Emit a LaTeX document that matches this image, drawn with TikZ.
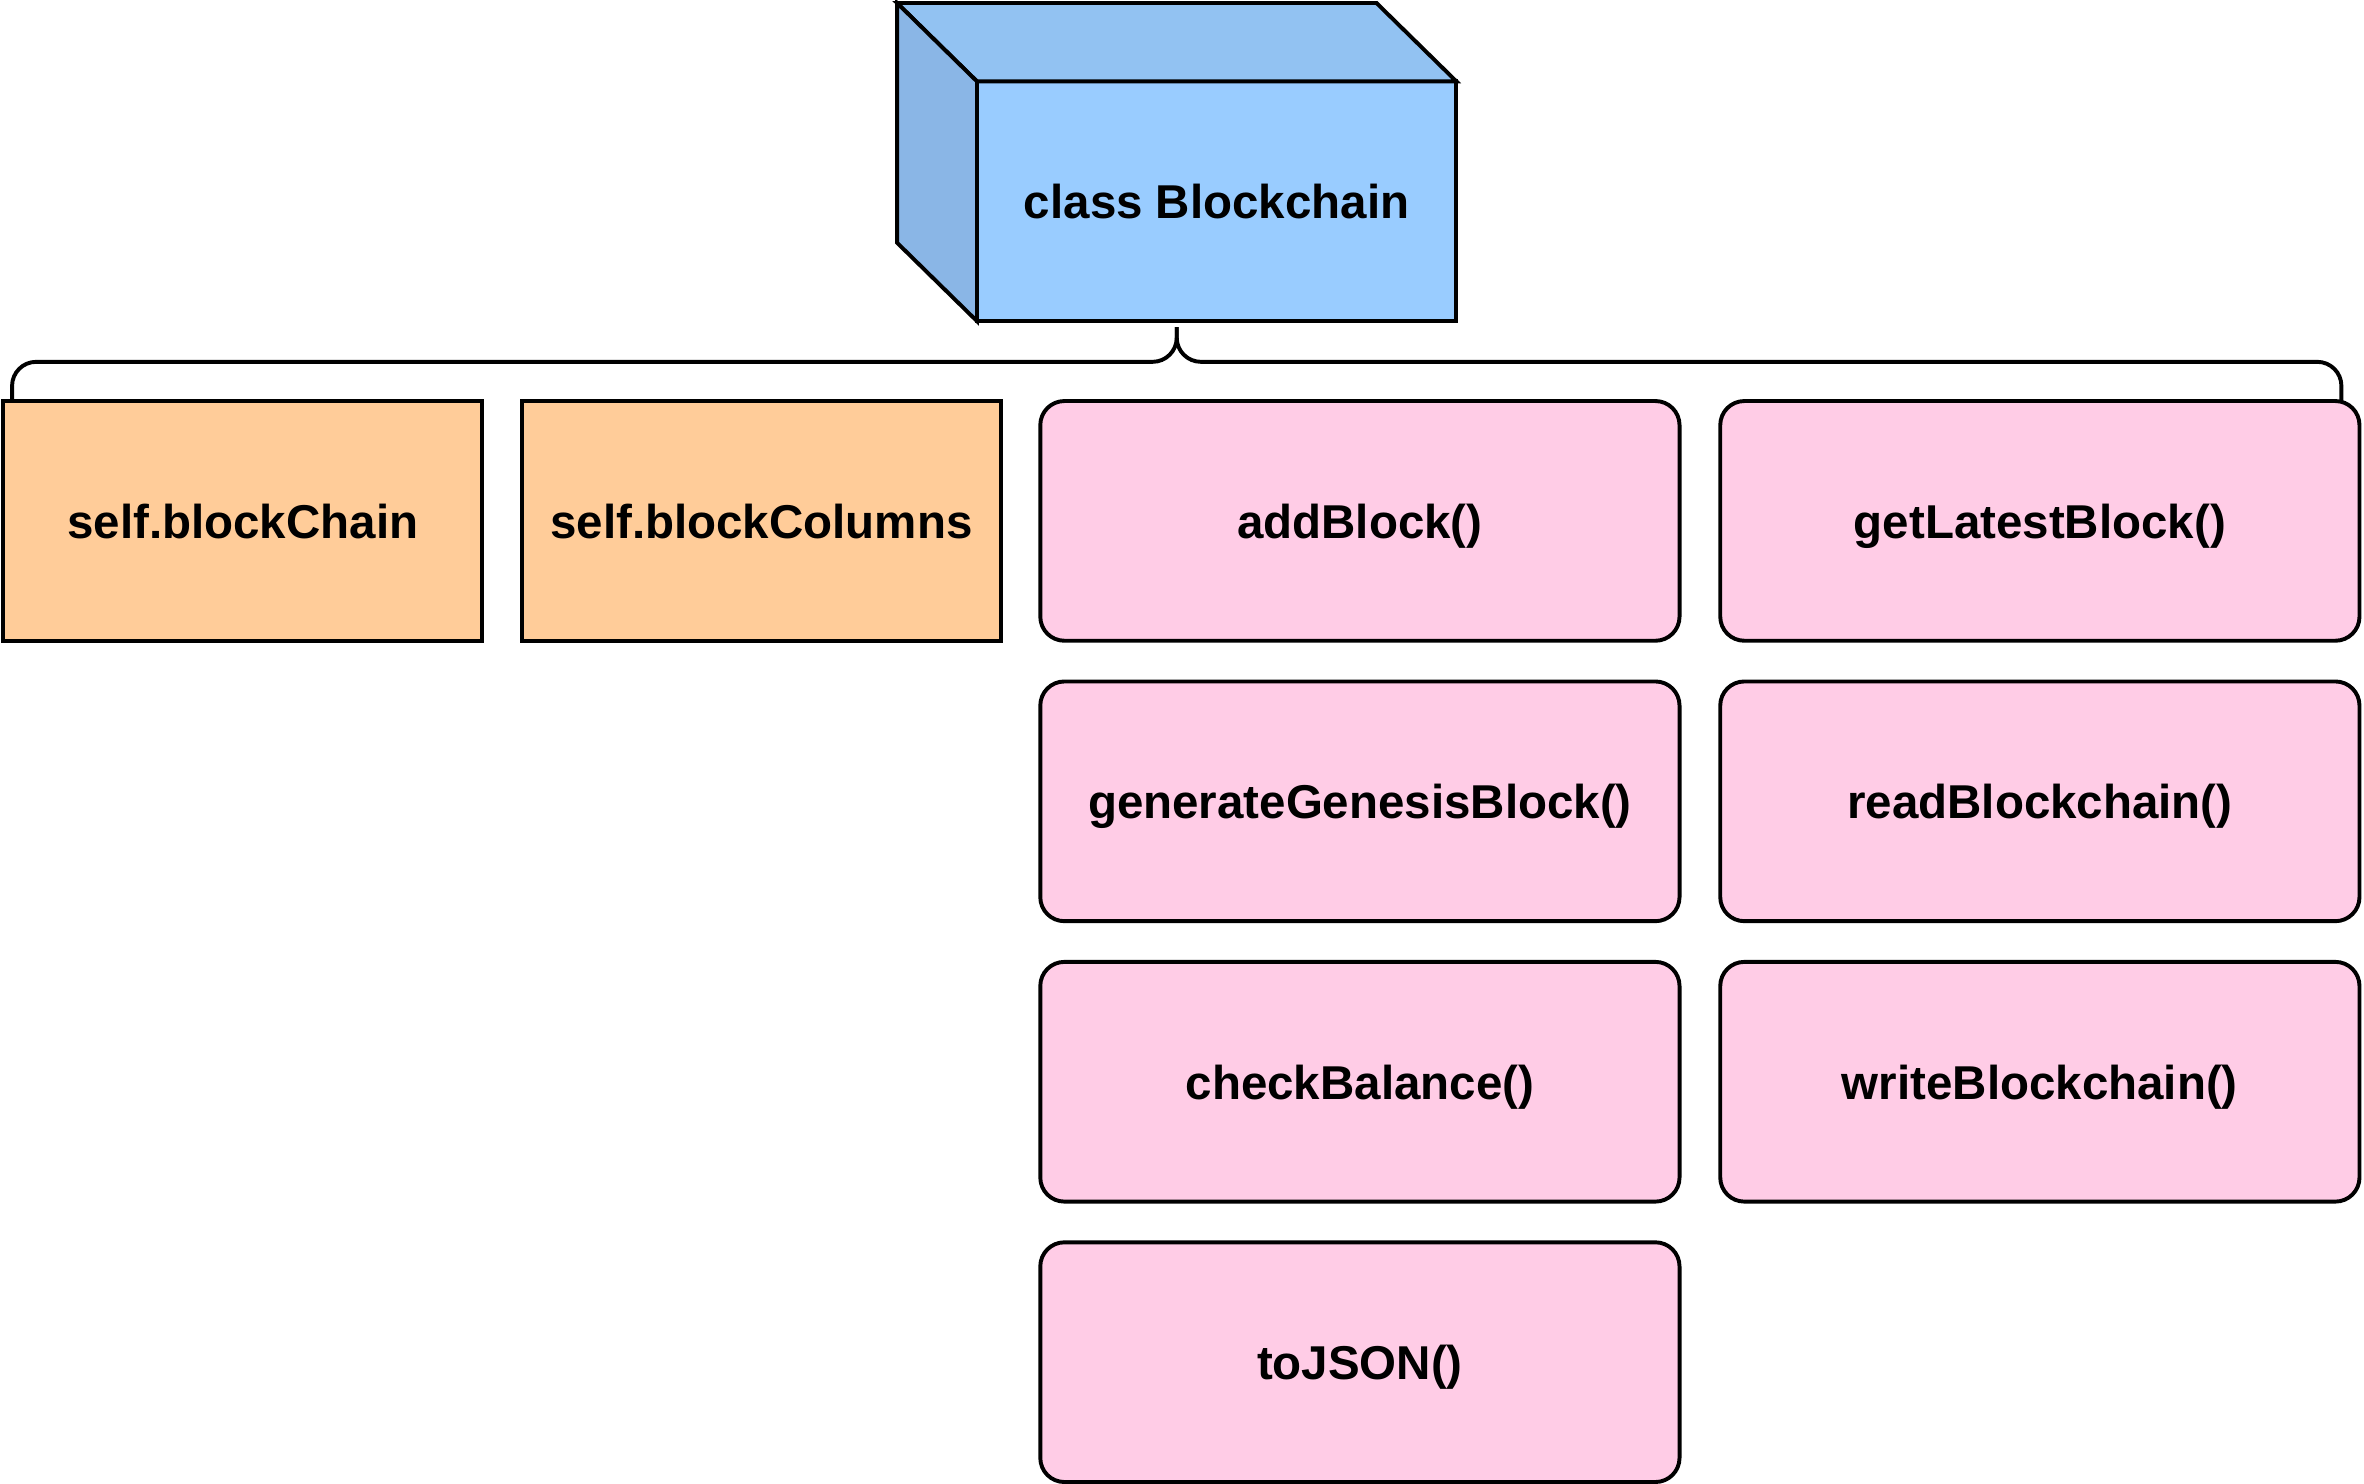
\documentclass[tikz,border=0pt]{standalone}
\usepackage{fontspec}
\setmainfont{Liberation Sans}
\usetikzlibrary{positioning}

\definecolor{fieldorange}{HTML}{FFCC99}
\definecolor{methodpink}{HTML}{FFCCE6}
\definecolor{cubefront}{HTML}{99CCFF}
\definecolor{cubetop}{HTML}{92C2F2}
\definecolor{cubeside}{HTML}{8AB6E6}

\begin{document}
\begin{tikzpicture}[
  node distance=13.5pt,
  label font/.style={font=\fontsize{15.75}{19}\selectfont\bfseries, text height=11.5pt, text depth=0pt, outer sep=0pt},
  field/.style={rectangle, draw, line width=1.3pt, fill=fieldorange, minimum width=159pt, minimum height=79.5pt, label font},
  method/.style={rectangle, draw, line width=1.3pt, rounded corners=8pt, fill=methodpink, minimum width=212pt, minimum height=79.5pt, label font},
  classbox/.style={rectangle, draw, line width=1.3pt, fill=cubefront, minimum width=159pt, minimum height=79.5pt, label font},
  brace/.style={draw, line width=1.3pt, rounded corners=8pt}
]
  \useasboundingbox (0,0) rectangle (784pt,-492pt);

  % The class as a cube
  \node[classbox] (cls) at (403.5pt,-66.75pt) {class Blockchain};
  \draw[line width=1.3pt, fill=cubetop] (cls.north west) -- ++(-26.5pt,26pt) -- ++(159pt,0) -- (cls.north east) -- cycle;
  \draw[line width=1.3pt, fill=cubeside] (cls.north west) -- ++(-26.5pt,26pt) -- ++(0,-79.5pt) -- (cls.south west) -- cycle;

  % Attributes
  \node[field, anchor=north west] (chain) at (1pt,-133pt) {self.blockChain};
  \node[field, right=13pt of chain] (columns) {self.blockColumns};

  % Methods
  \node[method, right=13pt of columns] (add) {addBlock()};
  \node[method, right=of add] (latest) {getLatestBlock()};
  \node[method, below=of add] (genesis) {generateGenesisBlock()};
  \node[method, below=of genesis] (balance) {checkBalance()};
  \node[method, below=of balance] (json) {toJSON()};
  \node[method, below=of latest] (read) {readBlockchain()};
  \node[method, below=of read] (write) {writeBlockchain()};

  % Brace under the class
  \coordinate (bl) at ([xshift=3pt]chain.north west);
  \coordinate (br) at ([xshift=-6pt]latest.north east);
  \coordinate (tip) at ([xshift=-13.25pt, yshift=-2pt]cls.south);
  \path (tip) ++(0,-11.5pt) coordinate (mid);
  \draw[brace] (bl) |- (mid) -- (tip);
  \draw[brace] (br) |- (mid) -- (tip);
\end{tikzpicture}
\end{document}
